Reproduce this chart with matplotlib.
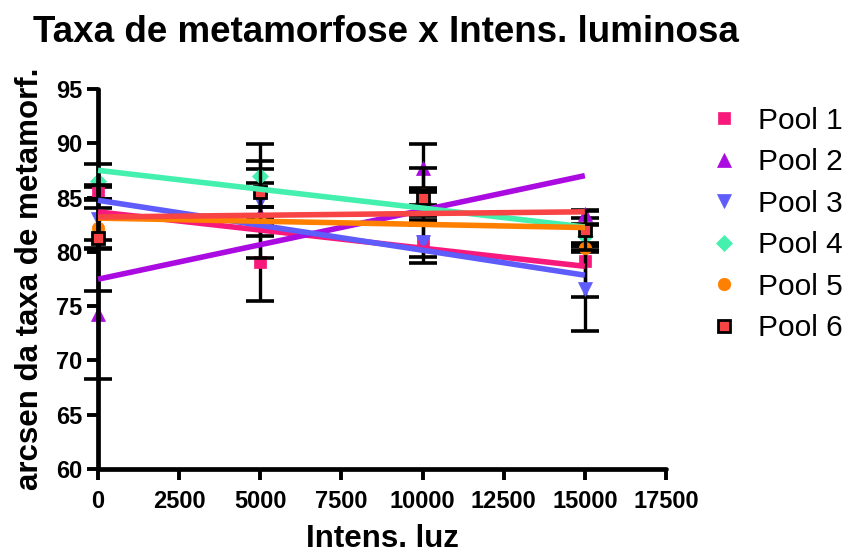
import numpy as np
import matplotlib
matplotlib.use("Agg")
import matplotlib.pyplot as plt
from matplotlib.lines import Line2D

plt.rcParams['font.family'] = ['Liberation Sans', 'DejaVu Sans']

# Light intensity levels
intensity = [0, 5000, 10000, 15000]

# Mean arcsine-transformed metamorphosis rate per pool, with error bars
pool1 = [85.4, 79.1, 81.0, 79.2]
pool1_err = [0.6, 3.6, 1.5, 3.4]
pool2 = [74.3, 83.5, 87.7, 83.5]
pool2_err = [6.0, 4.1, 2.2, 0.4]
pool3 = [83.0, 84.7, 80.9, 76.6]
pool3_err = [1.9, 1.6, 1.9, 3.9]
pool4 = [86.5, 87.0, 84.6, 81.5]
pool4_err = [1.6, 2.9, 1.3, 1.0]
pool5 = [82.2, 82.8, 85.3, 80.4]
pool5_err = [1.8, 1.3, 2.4, 0.4]
pool6 = [81.3, 85.5, 85.0, 82.0]
pool6_err = [4.9, 2.9, 0.7, 1.8]

labels = ["Pool 1", "Pool 2", "Pool 3", "Pool 4", "Pool 5", "Pool 6"]
series = [pool1, pool2, pool3, pool4, pool5, pool6]
errors = [pool1_err, pool2_err, pool3_err, pool4_err, pool5_err, pool6_err]
colors = ["#F8197C", "#AA0BE0", "#5E5CFB", "#44F0AE", "#FF8000", "#F84444"]
markers = ["s", "^", "v", "D", "o", "s"]
msizes = [9, 10, 10, 8, 9, 9]
edges = [None, None, None, None, None, "black"]

x_ticks = [0, 2500, 5000, 7500, 10000, 12500, 15000, 17500]
y_ticks = [60, 65, 70, 75, 80, 85, 90, 95]

fig = plt.figure(figsize=(8.49, 5.56), dpi=100)
ax = fig.add_axes([98 / 849, 1 - 469 / 556, (666 - 98) / 849, (469 - 89) / 556])

x = np.array(intensity, dtype=float)
for i, (y, e, c, m, ms, ec) in enumerate(zip(series, errors, colors, markers, msizes, edges)):
    ax.errorbar(x, y, yerr=e, fmt="none", ecolor="black", elinewidth=2.4,
                capsize=10, capthick=2.6, zorder=2 + i * 0.1, clip_on=False)
    ax.plot(x, y, linestyle="none", marker=m, markersize=ms, color=c,
            markeredgecolor=ec if ec else c, markeredgewidth=2 if ec else 0.5,
            zorder=2.05 + i * 0.1, clip_on=False)

# Linear regression line for each pool
for y, c in zip(series, colors):
    slope, intercept = np.polyfit(x, y, 1)
    xs = np.array([x.min(), x.max()])
    ax.plot(xs, slope * xs + intercept, color=c, linewidth=4.0,
            solid_capstyle="butt", zorder=5, clip_on=False)

ax.set_xlim(0, 17500)
ax.set_ylim(60, 95)
ax.set_xticks(x_ticks)
ax.set_yticks(y_ticks)
ax.set_xticklabels([str(t) for t in x_ticks], fontsize=17, fontweight="bold")
ax.set_yticklabels([str(t) for t in y_ticks], fontsize=17, fontweight="bold")
ax.tick_params(axis="both", direction="out", length=8, width=2.8)
ax.tick_params(axis="x", pad=7)
ax.tick_params(axis="y", pad=3)

for side in ["top", "right"]:
    ax.spines[side].set_visible(False)
for side in ["left", "bottom"]:
    ax.spines[side].set_linewidth(3.4)
    ax.spines[side].set_capstyle("round")

ax.set_xlabel("Intens. luz", fontsize=22.5, fontweight="bold", labelpad=8)
ax.set_ylabel("arcsen da taxa de metamorf.", fontsize=22.5, fontweight="bold", labelpad=8)
fig.text(386 / 849, 1 - 32 / 556, "Taxa de metamorfose x Intens. luminosa",
         fontsize=26.5, fontweight="bold", ha="center", va="center")

handles = [Line2D([], [], linestyle="none", marker=m, markersize=ms, color=c,
                  markeredgecolor=ec if ec else c, markeredgewidth=2 if ec else 0.5)
           for m, ms, c, ec in zip(markers, msizes, colors, edges)]
fig.legend(handles, labels, loc="upper left", bbox_to_anchor=(697 / 849, 1 - 95 / 556),
           frameon=False, fontsize=21.5, handletextpad=0.65, labelspacing=0.45,
           handlelength=1.0, borderaxespad=0)

fig.savefig("out.png", dpi=100)
